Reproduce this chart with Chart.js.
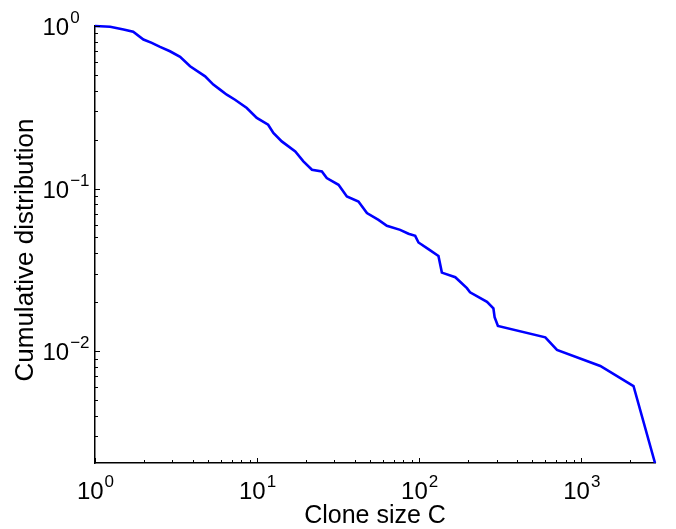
<!DOCTYPE html>
<html>
<head>
<meta charset="utf-8">
<script src="https://cdn.jsdelivr.net/npm/chart.js@4.4.1/dist/chart.umd.min.js"></script>
<style>
  html, body { margin: 0; padding: 0; background: #fff; }
  #wrap { width: 676px; height: 529px; }
</style>
</head>
<body>
<div id="wrap"><canvas id="cdfChart" width="676" height="529"></canvas></div>
<script>
// clone sizes (x) and cumulative distribution (y)
const cloneSize = [1, 1.24, 1.5, 1.72, 1.99, 2.24, 2.52, 2.9, 3.35, 3.86, 4.78, 5.37, 5.91, 6.5,
    7.31, 8.64, 9.96, 11.7, 12.6, 14.2, 17.2, 19.3, 21.8, 25.1, 26.9, 31.8, 35.8, 42.2, 47.6,
    56.1, 63.2, 76.3, 85.9, 94.5, 99, 114, 131.5, 138, 167, 197, 206, 262, 287, 292, 306,
    600, 708, 1310, 2100, 2850];
const cumulative = [1.0, 0.989, 0.952, 0.921, 0.826, 0.788, 0.744, 0.699, 0.646, 0.565, 0.49,
    0.436, 0.406, 0.378, 0.352, 0.313, 0.272, 0.247, 0.22, 0.195, 0.169, 0.147, 0.1305, 0.1274,
    0.116, 0.1055, 0.0894, 0.0833, 0.0706, 0.0642, 0.059, 0.0557, 0.0527, 0.0512, 0.0466, 0.0424,
    0.0385, 0.0304, 0.0285, 0.0244, 0.023, 0.0201, 0.01835, 0.01615, 0.01428, 0.01216, 0.01016,
    0.0081, 0.0061, 0.00205];

// axis ranges and tick exponents
const xRange = [1, 2850];
const yRange = [0.00205, 1];
const xExponents = ['0', '1', '2', '3'];
const yExponents = ['0', '\u22121', '\u22122'];

const FONT = '"Liberation Sans", Arial, Helvetica, sans-serif';

// MATLAB-style axes: inward ticks, 10^n labels, axis titles
const matlabAxes = {
    id: 'matlabAxes',
    afterDraw(chart) {
        const ctx = chart.ctx;
        const xs = chart.scales.x, ys = chart.scales.y;
        const area = chart.chartArea;
        ctx.save();
        ctx.strokeStyle = '#000';
        ctx.fillStyle = '#000';
        ctx.lineWidth = 1;

        // ticks on x
        for (let e = 0; e <= 4; e++) {
            for (let m = 1; m <= 9; m++) {
                const v = m * Math.pow(10, e);
                if (v < xRange[0] || v > xRange[1]) continue;
                const px = Math.round(xs.getPixelForValue(v)) + 0.5;
                const len = m === 1 ? 5 : 3;
                ctx.beginPath();
                ctx.moveTo(px, area.bottom);
                ctx.lineTo(px, area.bottom - len);
                ctx.stroke();
            }
        }
        // ticks on y
        for (let e = -3; e <= 0; e++) {
            for (let m = 1; m <= 9; m++) {
                const v = m * Math.pow(10, e);
                if (v < yRange[0] || v > yRange[1] * 1.0001) continue;
                const py = Math.round(ys.getPixelForValue(v)) + 0.5;
                const len = m === 1 ? 5 : 3;
                ctx.beginPath();
                ctx.moveTo(area.left, py);
                ctx.lineTo(area.left + len, py);
                ctx.stroke();
            }
        }

        const baseFont = '24px ' + FONT;
        const supFont = '17px ' + FONT;
        ctx.textAlign = 'left';
        ctx.textBaseline = 'alphabetic';

        // x tick labels
        xExponents.forEach(exp => {
            const v = Math.pow(10, Number(exp));
            const px = xs.getPixelForValue(v);
            ctx.font = baseFont;
            const w1 = ctx.measureText('10').width;
            ctx.font = supFont;
            const w2 = ctx.measureText(exp).width;
            const x0 = px - (w1 + w2) / 2;
            ctx.font = baseFont;
            ctx.fillText('10', x0, area.bottom + 36);
            ctx.font = supFont;
            ctx.fillText(exp, x0 + w1 + 1, area.bottom + 24);
        });

        // y tick labels ("10" starts at the same x for every label)
        yExponents.forEach(exp => {
            const v = Math.pow(10, Number(exp.replace('\u2212', '-')));
            const py = ys.getPixelForValue(v);
            ctx.font = baseFont;
            const w1 = ctx.measureText('10').width;
            const x0 = 42.5;
            ctx.fillText('10', x0, py + 9);
            ctx.font = supFont;
            ctx.fillText(exp, x0 + w1 + 1, py - 3);
        });

        // axis titles
        ctx.textAlign = 'center';
        ctx.font = '25px ' + FONT;
        ctx.fillText('Clone size C', (area.left + area.right) / 2, 523);
        ctx.font = '26px ' + FONT;
        ctx.save();
        ctx.translate(33, 250);
        ctx.rotate(-Math.PI / 2);
        ctx.fillText('Cumulative distribution', 0, 0);
        ctx.restore();

        ctx.restore();
    }
};

new Chart(document.getElementById('cdfChart'), {
    type: 'line',
    data: {
        datasets: [{
            data: cloneSize.map((c, i) => ({ x: c, y: cumulative[i] })),
            borderColor: '#0000ff',
            borderWidth: 2.6,
            pointRadius: 0,
            tension: 0,
            fill: false,
            clip: false
        }]
    },
    options: {
        responsive: false,
        animation: false,
        devicePixelRatio: 1,
        layout: { padding: { top: 26, right: 21, left: 0, bottom: 0 } },
        plugins: { legend: { display: false }, tooltip: { enabled: false } },
        scales: {
            x: {
                type: 'logarithmic',
                min: xRange[0],
                max: xRange[1],
                grid: { display: false },
                border: { display: true, color: '#000', width: 1.5 },
                ticks: { display: false },
                afterFit(scale) { scale.height = 66; }
            },
            y: {
                type: 'logarithmic',
                min: yRange[0],
                max: yRange[1],
                grid: { display: false },
                border: { display: true, color: '#000', width: 1.5 },
                ticks: { display: false },
                afterFit(scale) { scale.width = 95; }
            }
        }
    },
    plugins: [matlabAxes]
});
</script>
</body>
</html>
